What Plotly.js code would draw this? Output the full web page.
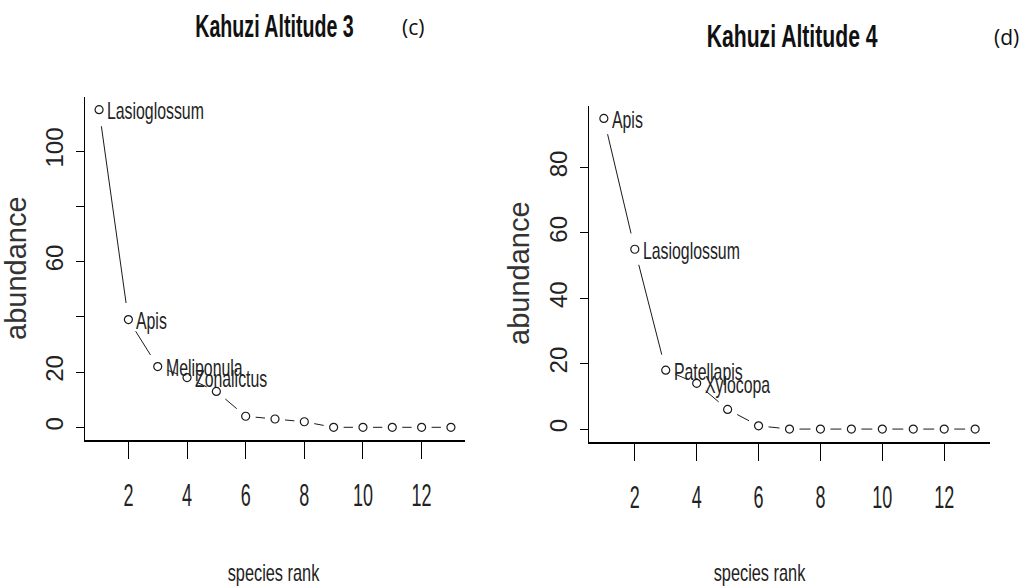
<!DOCTYPE html>
<html><head><meta charset="utf-8">
<script src="https://cdn.plot.ly/plotly-3.0.1.min.js"></script>
<style>html,body{margin:0;padding:0;background:#fff}</style>
</head><body><div id="chart" style="width:1030px;height:587px"></div>
<script>
// ---- data ----
const ranks = [1,2,3,4,5,6,7,8,9,10,11,12,13];
const abundanceC = [115,39,22,18,13,4,3,2,0,0,0,0,0];
const abundanceD = [95,55,18,14,6,1,0,0,0,0,0,0,0];
const labelsC = ['Lasioglossum','Apis','Meliponula','Zonalictus'];
const labelsD = ['Apis','Lasioglossum','Patellapis','Xylocopa'];
const titleC = 'Kahuzi Altitude 3';
const titleD = 'Kahuzi Altitude 4';
const tagC = '(c)';
const tagD = '(d)';
const xTickVals = [2,4,6,8,10,12];
const xTickText = ['2','4','6','8','10','12'];
const yTickValsC = [0,20,40,60,80,100];
const yTickTextC = ['0','20','','60','','100'];
const yTickValsD = [0,20,40,60,80];
const yTickTextD = ['0','20','40','60','80'];
const xTitle = 'species rank';
const yTitle = 'abundance';

// ---- layout geometry ----
const W = 1030, H = 587;
const domC = {x:[85/W, 465/W], y:[(H-440)/H, (H-97)/H]};
const domD = {x:[589/W, 990/W], y:[(H-441.5)/H, (H-106)/H]};

function padRange(v){ const lo=Math.min(...v), hi=Math.max(...v), d=(hi-lo)*0.04; return [lo-d, hi+d]; }
const xr = padRange(ranks);
const yrC = padRange(abundanceC);
const yrD = padRange(abundanceD);

// R type="b" style: segments with gaps around points
function gapSegments(xs, ys, dom, xrange, yrange){
  const sx = (dom.x[1]-dom.x[0])*W/(xrange[1]-xrange[0]);
  const sy = (dom.y[1]-dom.y[0])*H/(yrange[1]-yrange[0]);
  const rx = 10, ry = 17;
  const ox=[], oy=[];
  for(let i=0;i<xs.length-1;i++){
    const dx=(xs[i+1]-xs[i]), dy=(ys[i+1]-ys[i]);
    const t = 1/Math.sqrt(Math.pow(dx*sx/rx,2)+Math.pow(dy*sy/ry,2));
    if(t<0.5){
      ox.push(xs[i]+t*dx, xs[i]+(1-t)*dx, null);
      oy.push(ys[i]+t*dy, ys[i]+(1-t)*dy, null);
    }
  }
  return {x:ox, y:oy};
}
const segC = gapSegments(ranks, abundanceC, domC, xr, yrC);
const segD = gapSegments(ranks, abundanceD, domD, xr, yrD);

const ink = '#1a1a1a';
const lineTr = (s, xa, ya) => ({x:s.x, y:s.y, xaxis:xa, yaxis:ya, mode:'lines', type:'scatter',
  line:{color:ink, width:1}, hoverinfo:'skip', showlegend:false, connectgaps:false});
const ptTr = (ys, xa, ya) => ({x:ranks, y:ys, xaxis:xa, yaxis:ya, mode:'markers', type:'scatter',
  marker:{symbol:'circle-open', size:8, color:ink, line:{width:1.2, color:ink}}, showlegend:false});

const data = [
  lineTr(segC,'x','y'), ptTr(abundanceC,'x','y'),
  lineTr(segD,'x2','y2'), ptTr(abundanceD,'x2','y2')
];

const sans = 'Liberation Sans, Arial, sans-serif';

// text measurement for condensed (narrow) texts
const mctx = document.createElement('canvas').getContext('2d');
function measure(text, size, bold){ mctx.font = (bold?'bold ':'') + size + 'px "Liberation Sans", Arial, sans-serif'; return mctx.measureText(text).width; }

const xAxisBase = {range:xr, tickvals:xTickVals, ticktext:xTickText, showgrid:false, zeroline:false,
  showline:true, linecolor:'#000', linewidth:2, ticks:'outside', ticklen:17, tickwidth:1, tickcolor:'#000',
  tickfont:{family:sans, size:31, color:'#222'}, ticklabelstandoff:10, fixedrange:true};
const yAxisBase = {showgrid:false, zeroline:false, showline:true, linecolor:'#000', linewidth:1.5,
  ticks:'outside', ticklen:8, tickwidth:1, tickcolor:'#000', tickangle:-90,
  tickfont:{family:sans, size:24, color:'#222'}, ticklabelstandoff:3, fixedrange:true};

const annotations = [];
const squeezeList = []; // [annotation index, target length]
function addLabels(names, ys, xa, ya){
  names.forEach((n,i)=>{
    const w = measure(n, 24, false)*0.66;
    squeezeList.push([annotations.length, w]);
    annotations.push({x:ranks[i], y:ys[i], xref:xa, yref:ya, text:n, showarrow:false, align:'left',
      xanchor:'left', yanchor:'middle', xshift:6, yshift:-1, width:Math.ceil(w)+2,
      font:{family:sans, size:24, color:'#222'}});
  });
}
addLabels(labelsC, abundanceC, 'x', 'y');
addLabels(labelsD, abundanceD, 'x2', 'y2');

function paperText(text, px, py, font, angle, factor){
  const a = {x:px/W, y:1-py/H, xref:'paper', yref:'paper', text:text, showarrow:false,
    xanchor:'center', yanchor:'middle', font:font, textangle:angle||0};
  if(factor){
    const w = measure(text, font.size, font.weight==='bold')*factor;
    squeezeList.push([annotations.length, w]);
    a.width = Math.ceil(w)+2;
  }
  annotations.push(a);
}
paperText(titleC, 274, 26, {family:sans, size:31, color:'#111', weight:'bold'}, 0, 0.63);
paperText(titleD, 792, 36, {family:sans, size:31, color:'#111', weight:'bold'}, 0, 0.68);
paperText(tagC, 413, 27, {family:'Open Sans, Noto Sans, sans-serif', size:21, color:'#111'});
paperText(tagD, 1006, 37, {family:'Open Sans, Noto Sans, sans-serif', size:21, color:'#111'});
paperText(yTitle, 16, 268, {family:sans, size:29, color:'#333'}, -90);
paperText(yTitle, 519, 273, {family:sans, size:29, color:'#333'}, -90);
paperText(xTitle, 274, 572, {family:sans, size:24, color:'#222'}, 0, 0.68);
paperText(xTitle, 760, 572, {family:sans, size:24, color:'#222'}, 0, 0.68);

const layout = {
  width:W, height:H, margin:{l:0,r:0,t:0,b:0}, paper_bgcolor:'#fff', plot_bgcolor:'#fff',
  showlegend:false,
  xaxis: Object.assign({}, xAxisBase, {domain:domC.x, anchor:'y'}),
  yaxis: Object.assign({}, yAxisBase, {domain:domC.y, anchor:'x', range:yrC, tickvals:yTickValsC, ticktext:yTickTextC}),
  xaxis2: Object.assign({}, xAxisBase, {domain:domD.x, anchor:'y2'}),
  yaxis2: Object.assign({}, yAxisBase, {domain:domD.y, anchor:'x2', range:yrD, tickvals:yTickValsD, ticktext:yTickTextD}),
  annotations: annotations
};

// Condense horizontal texts (the reference uses a narrow typeface)
function setLen(el, len){
  el.setAttribute('textLength', len.toFixed(2)); el.setAttribute('lengthAdjust','spacingAndGlyphs');
}
Plotly.newPlot('chart', data, layout, {displayModeBar:false, staticPlot:true}).then(gd=>{
  squeezeList.forEach(([idx,len])=>{
    const t = gd.querySelector('g.annotation[data-index="'+idx+'"] text.annotation-text');
    if(t) setLen(t, len);
  });
  gd.querySelectorAll('g.xtick text, g.x2tick text').forEach(t=>{
    const L = t.getComputedTextLength(); if(L>0) setLen(t, L*0.58);
  });
});
</script>
</body></html>
